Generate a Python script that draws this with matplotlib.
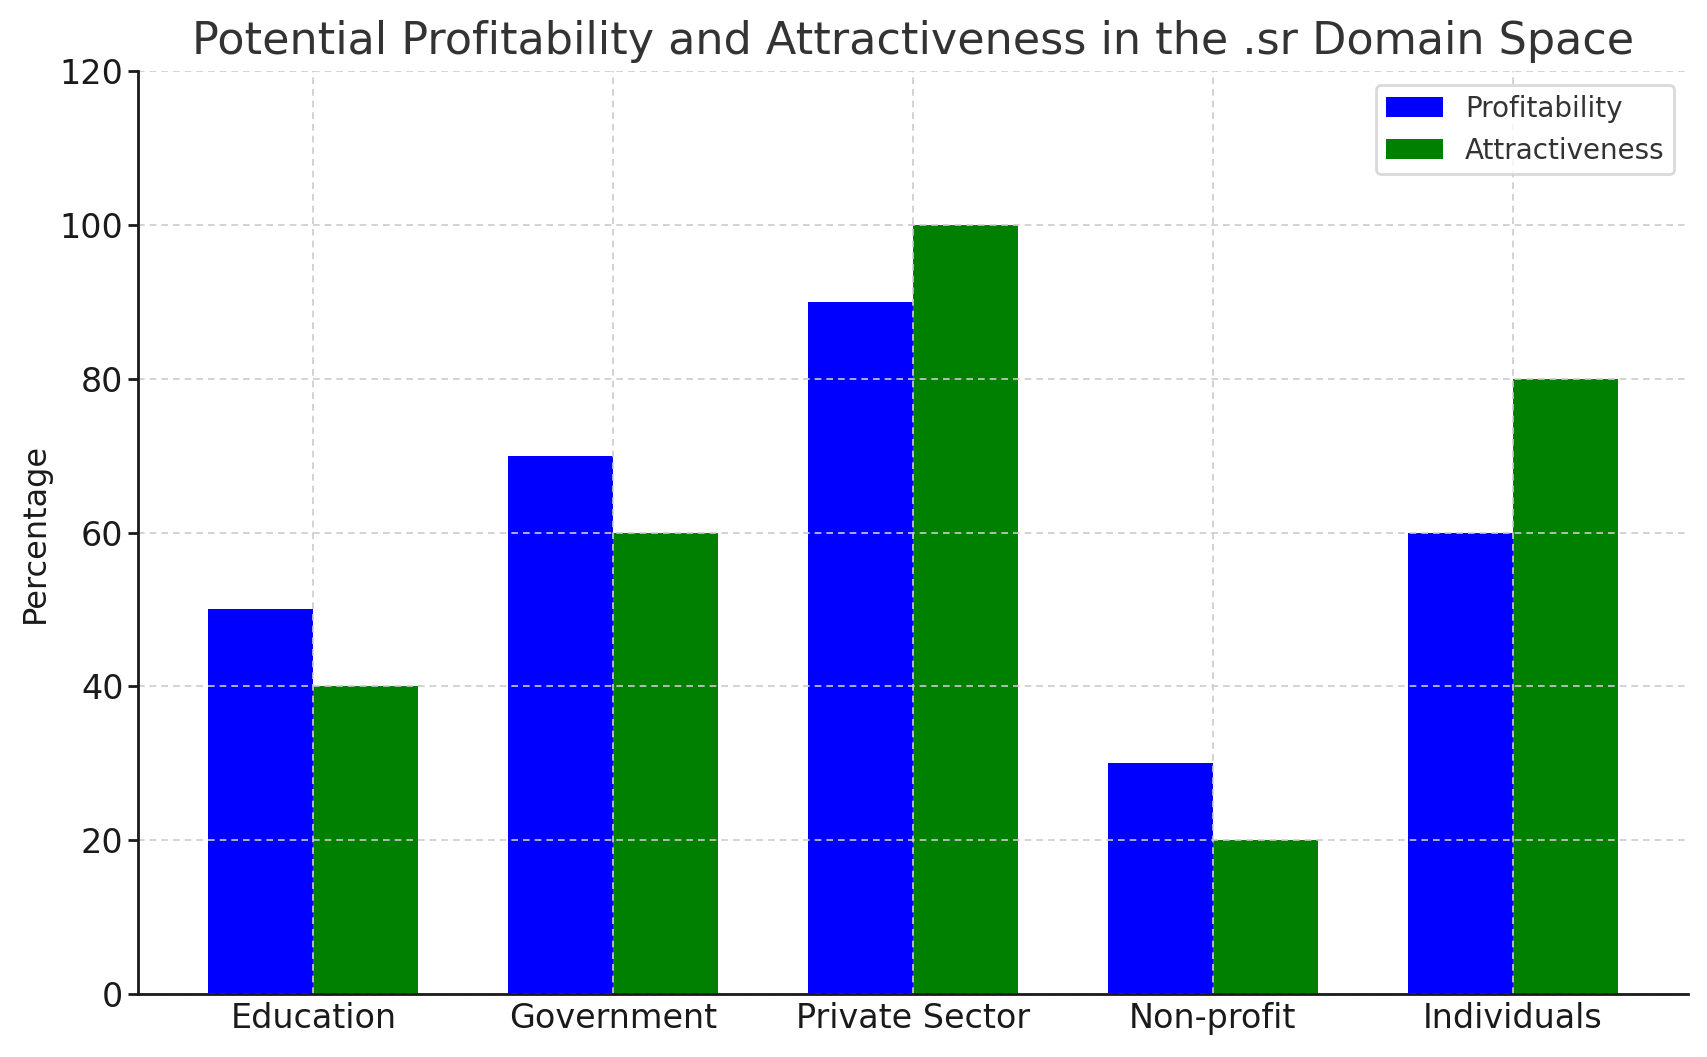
import numpy as np
import matplotlib.pyplot as plt

categories = ["Education", "Government", "Private Sector", "Non-profit", "Individuals"]
profitability = [50, 70, 90, 30, 60]
attractiveness = [40, 60, 100, 20, 80]


def main():
    fig = plt.figure(figsize=(17.07, 10.57), dpi=100)
    ax = fig.add_axes([138 / 1707, 1 - 994 / 1057, (1688 - 138) / 1707, (994 - 71) / 1057])

    x = np.arange(len(categories))
    w = 0.35
    ax.bar(x - w / 2, profitability, w, color="blue", label="Profitability")
    ax.bar(x + w / 2, attractiveness, w, color="green", label="Attractiveness")

    ax.set_ylim(0, 120)
    ax.set_xticks(x)
    ax.set_xticklabels(categories)
    ax.tick_params(axis="x", length=0, labelsize=24, pad=6, colors="#1a1a1a")
    ax.tick_params(axis="y", length=7, width=2, labelsize=24, colors="#1a1a1a")
    ax.set_ylabel("Percentage", fontsize=23, color="#1a1a1a", labelpad=6)
    ax.set_title("Potential Profitability and Attractiveness in the .sr Domain Space",
                 fontsize=32, color="#333333", pad=12)

    for s in ["top", "right"]:
        ax.spines[s].set_visible(False)
    for s in ["left", "bottom"]:
        ax.spines[s].set_linewidth(2)
        ax.spines[s].set_color("#1a1a1a")
        ax.spines[s].set_zorder(4)

    ax.set_axisbelow(False)
    ax.grid(True, linestyle="--", color="#cccccc", linewidth=1.2, dashes=(4, 3))

    leg = ax.legend(fontsize=20, loc="upper right", frameon=True, fancybox=True,
                    borderpad=0.35, handlelength=2.05, handletextpad=0.8)
    leg.get_frame().set_edgecolor("#d0d0d0")
    leg.get_frame().set_linewidth(2)
    for t in leg.get_texts():
        t.set_color("#333333")

    fig.savefig("out.png", dpi=100)


if __name__ == "__main__":
    main()
